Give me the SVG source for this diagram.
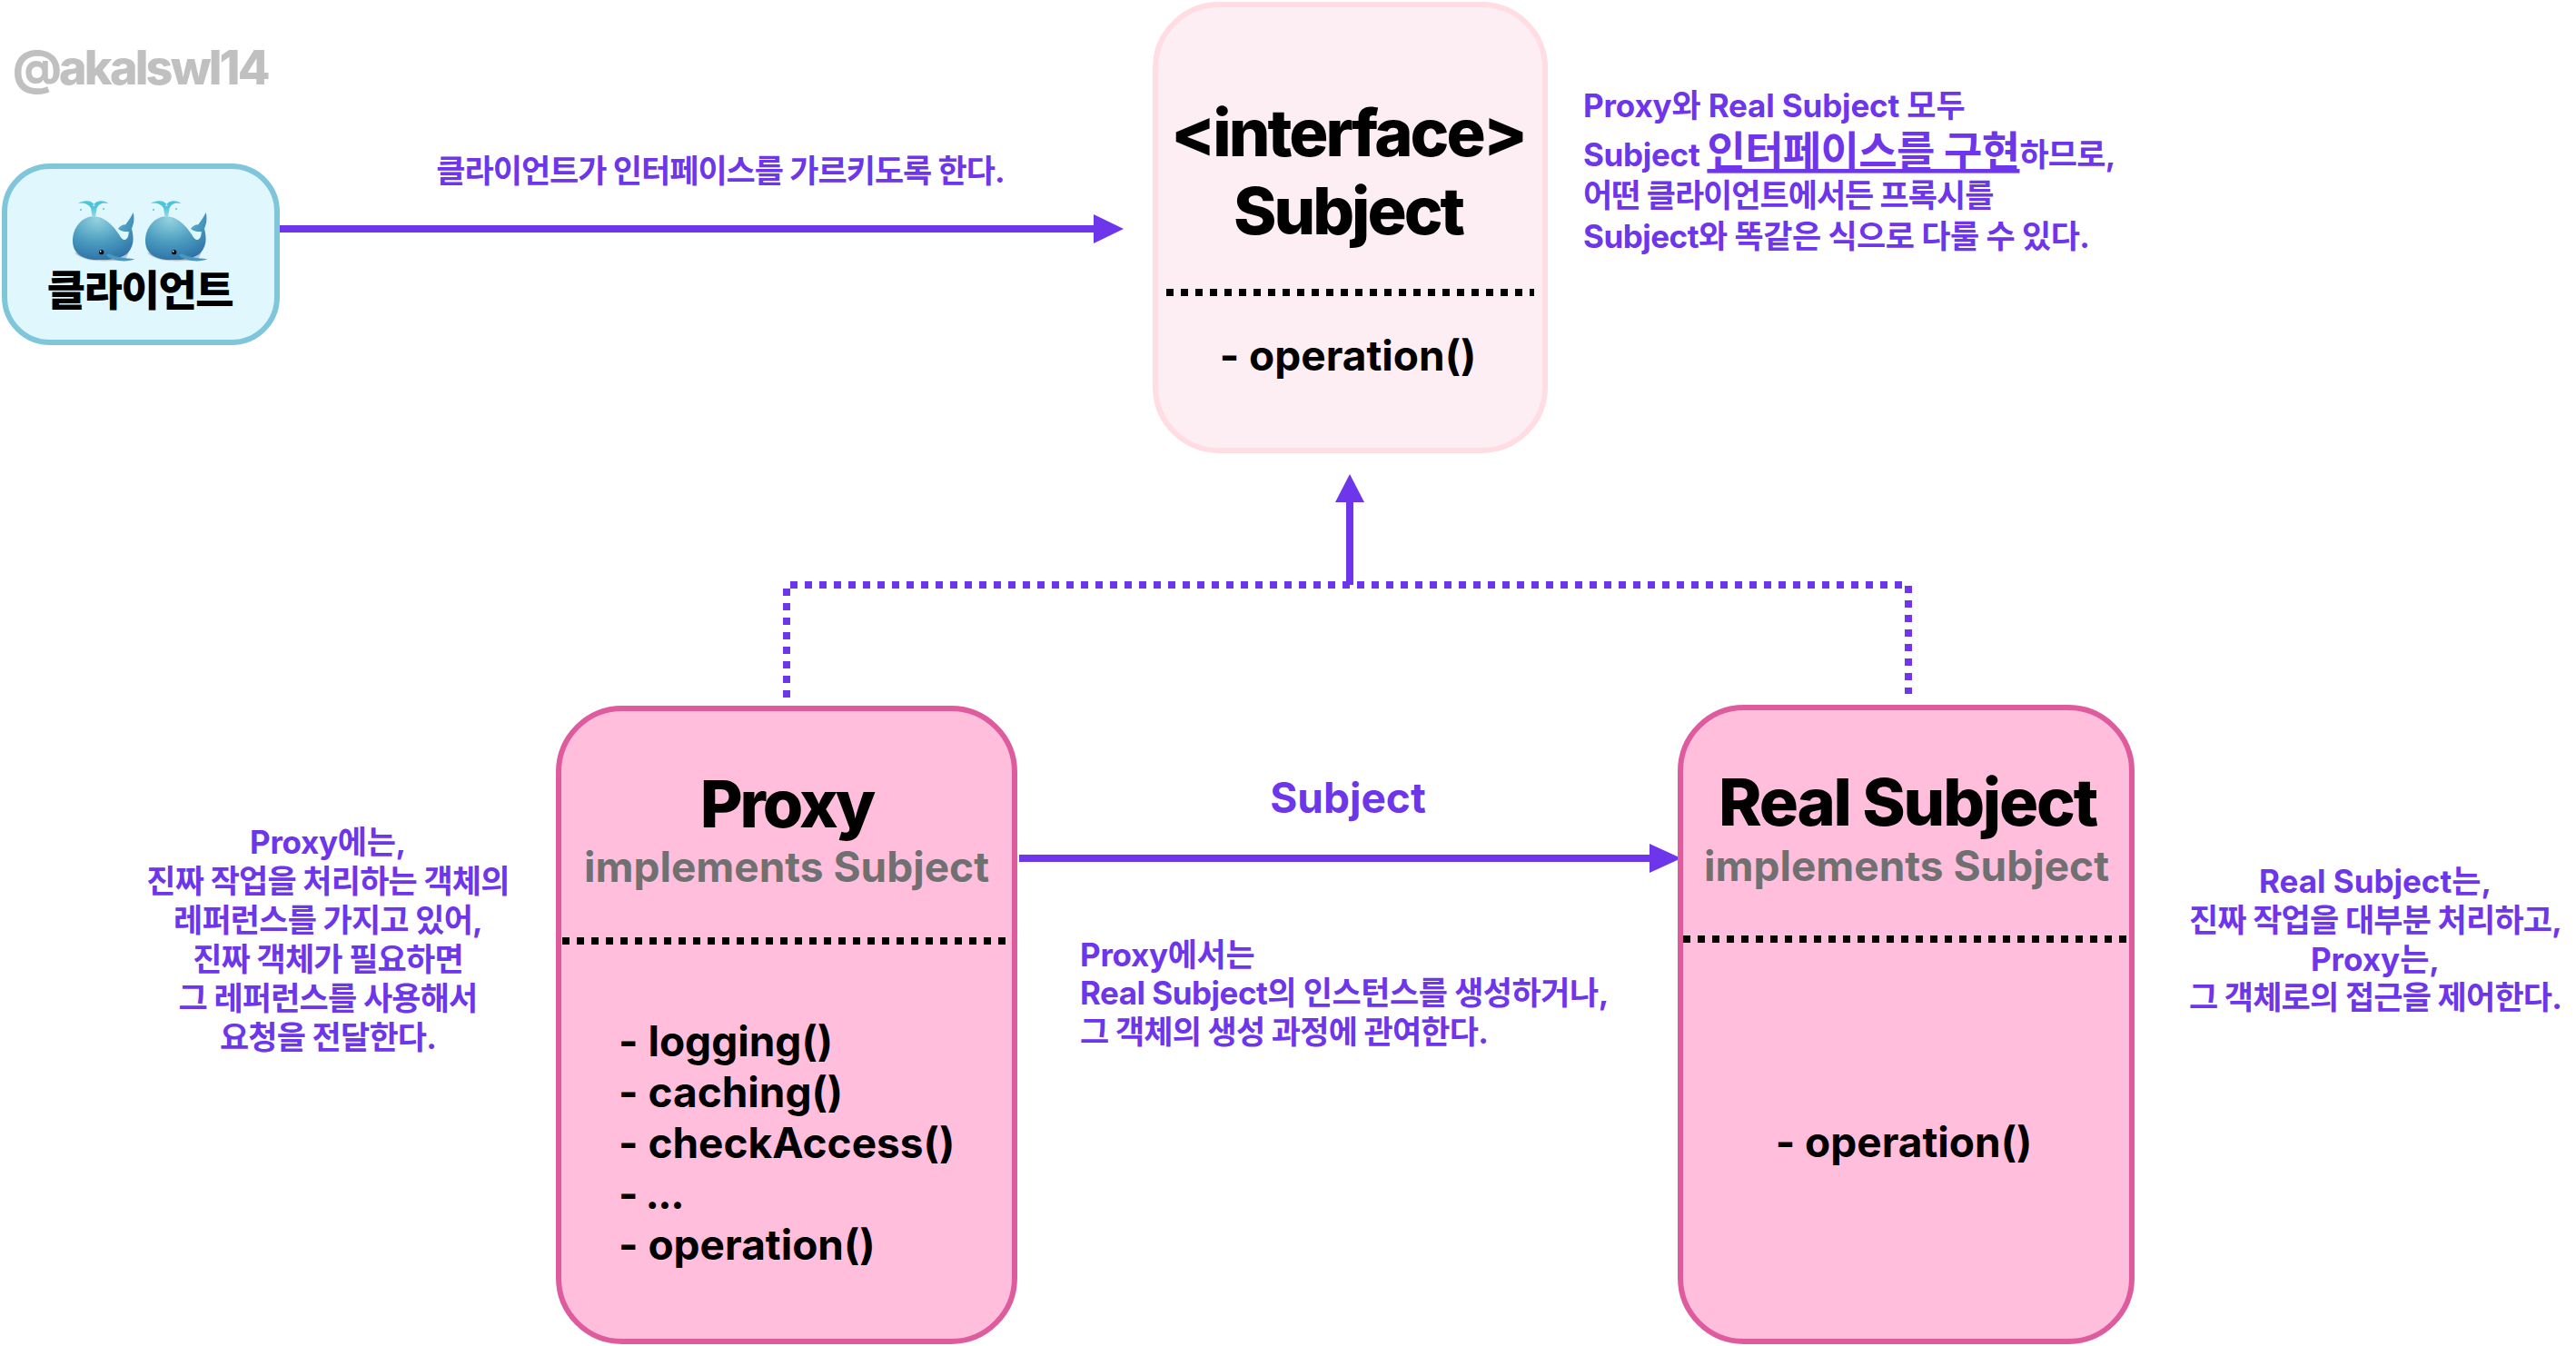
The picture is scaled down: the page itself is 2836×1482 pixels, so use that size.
<svg xmlns="http://www.w3.org/2000/svg" width="2836" height="1482" viewBox="0 0 2836 1482">
<style>
text{font-family:"Inter","Noto Sans CJK KR","Noto Sans",sans-serif;font-weight:700}
.k{font-family:"Noto Sans CJK KR","Inter",sans-serif}
.b{fill:#000}.t{font-size:72px;font-weight:800;letter-spacing:-3px}.m{font-size:46px}.g{fill:#707070;font-size:46px}
.p{fill:#6E36EA;font-size:35px}.c{text-anchor:middle}
.pk{fill:#FFBEDB;stroke:#DE5C9E;stroke-width:6}
.dv{stroke:#000;stroke-width:8;stroke-dasharray:8 8;fill:none}
.ln{stroke:#6E36EA;stroke-width:8;fill:none}
.ds{stroke:#6E36EA;stroke-width:8;stroke-dasharray:8 8;fill:none}
.hd{fill:#6E36EA}
.s3{letter-spacing:-.3px}.s5{letter-spacing:-.5px}.s8{letter-spacing:-.8px}.s10{letter-spacing:-1px}
</style>
<defs>
<radialGradient id="wh" cx=".4" cy=".15" r=".95"><stop offset="0" stop-color="#93D2DE"/><stop offset=".5" stop-color="#4C9DC0"/><stop offset="1" stop-color="#276AA3"/></radialGradient>
<linearGradient id="sp" x1="0" y1="0" x2="0" y2="1"><stop offset="0" stop-color="#45C0DA"/><stop offset="1" stop-color="#9ADCE8"/></linearGradient>
<g id="whale" transform="scale(.3333)">
<path d="M36 205C60 232 130 240 205 226L215 205L60 205Z" fill="#B9C6CC"/>
<path d="M100 85C60 85 30 122 30 165C30 205 60 228 110 228C165 230 205 222 220 195C232 175 232 155 225 125C232 110 235 90 230 72C222 90 212 100 205 112C195 112 185 118 180 126C190 134 205 136 215 135C216 155 205 172 190 155C172 125 140 85 100 85Z" fill="url(#wh)"/>
<path d="M140 212C160 232 205 238 235 226C205 222 175 222 150 208Z" fill="#4D97BE"/>
<path d="M95 88L89 50H111L105 88Z" fill="url(#sp)"/>
<path d="M100 45C90 30 65 32 48 42C62 38 78 40 90 56ZM100 45C112 30 135 32 148 42C132 38 120 40 110 56Z" fill="#4FC3DB"/>
<circle cx="57" cy="63" r="3" fill="#4FC3DB"/><circle cx="132" cy="60" r="3" fill="#4FC3DB"/>
<circle cx="125" cy="203" r="8" fill="#0A0A0A"/><circle cx="122" cy="200" r="2.5" fill="#fff"/>
</g>
</defs>
<g id="watermark"><text x="14" y="93" font-size="52" fill="#C0C0C0" style="font-weight:800;letter-spacing:-2.8px">@akalswl14</text></g>
<g id="connectors">
<path class="ln" d="M307 252H1206"/><path class="hd" d="M1204 236L1237 252L1204 268Z"/>
<path class="ln" d="M1122 945H1818"/><path class="hd" d="M1816 929L1851 945L1816 961Z"/>
<path class="ds" d="M866 768V644H2101V764"/>
<path class="ln" d="M1486 644V550"/><path class="hd" d="M1470 553L1486 522L1502 553Z"/>
</g>
<g id="client">
<rect x="5" y="183" width="300" height="194" rx="50" fill="#E1F7FE" stroke="#7FC6DA" stroke-width="6"/>
<use href="#whale" x="70" y="210"/><use href="#whale" x="150" y="210"/>
<text class="c b k" x="154" y="336" font-size="46" style="letter-spacing:-1.4px;font-weight:800">클라이언트</text>
</g>
<g id="subject">
<rect x="1272" y="5" width="429" height="491" rx="70" fill="#FDEEF4" stroke="#FFDDE2" stroke-width="6"/>
<text class="c b t" x="1484" y="172">&lt;interface&gt;</text>
<text class="c b t" x="1484" y="258">Subject</text>
<path class="dv" d="M1284 322H1689"/>
<text class="c b m" x="1484" y="408">- operation()</text>
</g>
<g id="proxy">
<rect x="615" y="780" width="502" height="697" rx="70" class="pk"/>
<text class="c b t" x="866" y="911">Proxy</text>
<text class="c g" x="866" y="971">implements Subject</text>
<path class="dv" d="M619 1036H1110"/>
<text class="b m" x="681" y="1163">- logging()</text>
<text class="b m" x="681" y="1219">- caching()</text>
<text class="b m" x="681" y="1275">- checkAccess()</text>
<text class="b m" x="681" y="1331" style="letter-spacing:-1.5px">- ...</text>
<text class="b m" x="681" y="1387">- operation()</text>
</g>
<g id="real">
<rect x="1850" y="779" width="497" height="698" rx="70" class="pk"/>
<text class="c b t" x="2100" y="909" style="letter-spacing:-2.2px">Real Subject</text>
<text class="c g" x="2099" y="970">implements Subject</text>
<path class="dv" d="M1853 1034H2342"/>
<text class="c b m" x="2096" y="1274">- operation()</text>
</g>
<g id="labels">
<text class="p c s10" x="793" y="201">클라이언트가 인터페이스를 가르키도록 한다.</text>
<text class="p" x="1743" y="129" style="letter-spacing:-.15px">Proxy와 Real Subject 모두</text>
<text class="p s3" x="1743" y="183">Subject <tspan style="font-size:46px;letter-spacing:-.6px" text-decoration="underline">인터페이스를 구현</tspan><tspan style="letter-spacing:-.8px">하므로,</tspan></text>
<text class="p s10" x="1743" y="228">어떤 클라이언트에서든 프록시를</text>
<text class="p s5" x="1743" y="273">Subject와 똑같은 식으로 다룰 수 있다.</text>
<text class="p c" x="1484" y="895" style="font-size:46px">Subject</text>
<text class="p s3" x="1189" y="1064">Proxy에서는</text>
<text class="p s5" x="1189" y="1106">Real Subject의 인스턴스를 생성하거나,</text>
<text class="p s8" x="1189" y="1149">그 객체의 생성 과정에 관여한다.</text>
<text class="p c s3" x="361" y="940">Proxy에는,</text>
<text class="p c s8" x="361" y="983">진짜 작업을 처리하는 객체의</text>
<text class="p c s8" x="361" y="1026">레퍼런스를 가지고 있어,</text>
<text class="p c s8" x="361" y="1069">진짜 객체가 필요하면</text>
<text class="p c s8" x="361" y="1112">그 레퍼런스를 사용해서</text>
<text class="p c s8" x="361" y="1155">요청을 전달한다.</text>
<text class="p c" x="2615" y="983">Real Subject는,</text>
<text class="p c s8" x="2615" y="1026">진짜 작업을 대부분 처리하고,</text>
<text class="p c" x="2615" y="1069">Proxy는,</text>
<text class="p c s8" x="2615" y="1111">그 객체로의 접근을 제어한다.</text>
</g>
</svg>
